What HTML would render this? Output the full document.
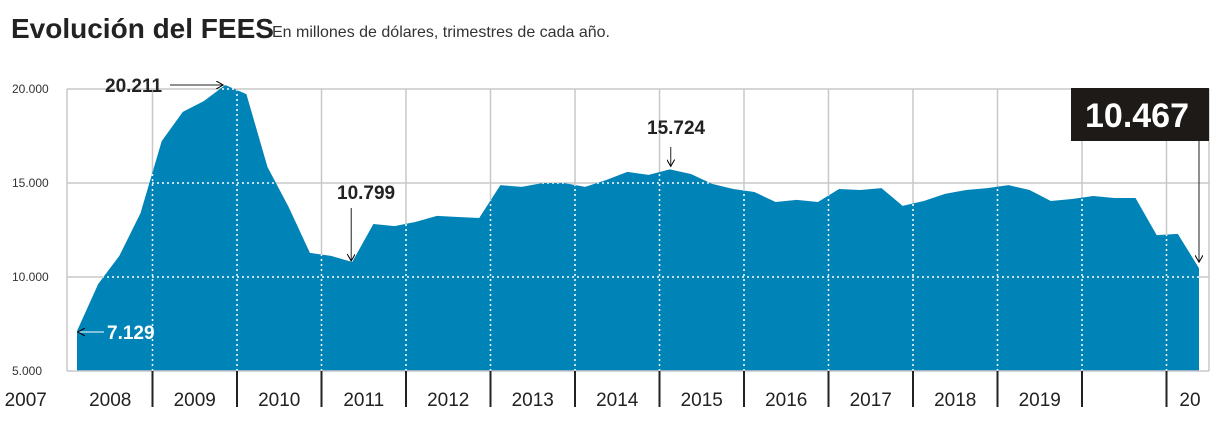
<!DOCTYPE html>
<html><head><meta charset="utf-8"><style>
body{margin:0;background:#fff;width:1221px;height:421px;overflow:hidden;font-family:"Liberation Sans",sans-serif}
svg{display:block}
</style></head><body>
<svg id="chart" width="1221" height="421" viewBox="0 0 1221 421" xmlns="http://www.w3.org/2000/svg">
<text x="11" y="38" font-family="Liberation Sans Narrow, Liberation Sans, sans-serif" font-weight="bold" font-size="28" fill="#222">Evolución del FEES</text>
<text x="272" y="37" font-family="Liberation Sans Narrow, Liberation Sans, sans-serif" font-size="16" fill="#333">En millones de dólares, trimestres de cada año.</text>
<g id="grid"></g>
<path id="area" fill="#0083b7"/>
<g id="inner"></g>
<g id="axes"></g>
<g id="ann"></g>
</svg>
<script>
const years=["2007","2008","2009","2010","2011","2012","2013","2014","2015","2016","2017","2018","2019","20"];
const yTicks=[5000,10000,15000,20000];
const yTickLabels=["5.000","10.000","15.000","20.000"];
const values=[7129,9630,11120,13400,17230,18780,19360,20211,19730,15850,13720,11280,11120,10799,12820,12710,12930,13250,13190,13140,14890,14790,15000,15000,14790,15160,15590,15430,15724,15480,14950,14680,14520,13990,14100,13990,14680,14630,14730,13780,14040,14420,14630,14730,14890,14630,14040,14150,14310,14200,14200,12230,12290,10467];
const NS="http://www.w3.org/2000/svg";
const x0=77,x1=1199,yBase=371;
function xs(i){return x0+i*(x1-x0)/(values.length-1);}
function ys(v){return 371-(v-5000)*(94/5000);}
function yearX(k){return 152.5+(k-1)*84.5;}
function mk(tag,attrs,parent){const e=document.createElementNS(NS,tag);for(const k in attrs)e.setAttribute(k,attrs[k]);parent.appendChild(e);return e;}
const grid=document.getElementById('grid'),inner=document.getElementById('inner'),axes=document.getElementById('axes'),ann=document.getElementById('ann');
// outer frame gray
for(let t=1;t<yTicks.length;t++){
  const l=mk('line',{x1:67,x2:1209,y1:ys(yTicks[t]),y2:ys(yTicks[t]),stroke:'#c8c8c8','stroke-width':1.5},grid);
  
  
}
mk('line',{x1:67,x2:67,y1:89,y2:371,stroke:'#c8c8c8','stroke-width':1.5},grid);
mk('line',{x1:1209,x2:1209,y1:89,y2:371,stroke:'#c8c8c8','stroke-width':1.5},grid);
for(let k=1;k<years.length;k++){
  const l=mk('line',{x1:yearX(k),x2:yearX(k),y1:89,y2:371,stroke:'#c8c8c8','stroke-width':1.5},grid);
  
  
}
// area
let d='M'+xs(0)+','+yBase;
values.forEach((v,i)=>{d+=' L'+xs(i).toFixed(1)+','+ys(v).toFixed(1);});
d+=' L'+xs(values.length-1)+','+yBase+' Z';
document.getElementById('area').setAttribute('d',d);
const cp=mk('clipPath',{id:'cp'},document.getElementById('chart'));
mk('path',{d:d},cp);
inner.setAttribute('clip-path','url(#cp)');
for(let t=1;t<yTicks.length;t++) mk('line',{x1:67,x2:1209,y1:ys(yTicks[t]),y2:ys(yTicks[t]),stroke:'#fff','stroke-width':1.5,'stroke-dasharray':'2 3'},inner);
for(let k=1;k<years.length;k++) mk('line',{x1:yearX(k),x2:yearX(k),y1:89,y2:371,stroke:'#fff','stroke-width':1.5,'stroke-dasharray':'2 3'},inner);
// axes
mk('line',{x1:67,x2:1209,y1:371,y2:371,stroke:'#c8c8c8','stroke-width':1.5},axes);
yTicks.forEach((v,i)=>{
  const t=mk('text',{x:12,y:ys(v)+4,'font-size':12,fill:'#333'},axes);
  t.textContent=yTickLabels[i];
  
  
});
years.forEach((y,k)=>{
  if(k>0){const s=mk('line',{x1:yearX(k),x2:yearX(k),y1:371,y2:407,stroke:'#222','stroke-width':2},axes);
    
    }
  const cx=k<years.length-1?yearX(k)-42.25:1190;
  const t=mk('text',{x:cx,y:406,'font-size':19,fill:'#222','text-anchor':'middle'},axes);
  t.textContent=y;
  
  
});
// annotations
mk('defs',{},ann).innerHTML='<marker id="ah" markerWidth="8" markerHeight="8" refX="7" refY="4" orient="auto" markerUnits="userSpaceOnUse"><path d="M0,0 L7,4 L0,8" fill="none" stroke="currentColor" stroke-width="1"/></marker>';
function label(txt,x,y,fill,name,size){const t=mk('text',{x:x,y:y,'font-size':size||19,'font-weight':'bold',fill:fill},ann);t.textContent=txt;return t;}
const pk=7,mn=13,mx=28,last=values.length-1;
label('20.211',105,92,'#222','label-max-2008');
mk('line',{x1:170,x2:xs(pk)-2,y1:85,y2:85,stroke:'#222','stroke-width':1,'marker-end':'url(#ah)',color:'#222'},ann);
label('7.129',107,339,'#fff','label-start-2007');
mk('line',{x1:104,x2:xs(0)+1,y1:332,y2:332,stroke:'#fff','stroke-width':1,'marker-end':'url(#ah)',color:'#fff'},ann);
label('10.799',337,199,'#222','label-min-2010');
mk('line',{x1:xs(mn)-1,x2:xs(mn)-1,y1:208,y2:ys(values[mn])-1,stroke:'#222','stroke-width':1,'marker-end':'url(#ah)',color:'#222'},ann);
label('15.724',647,134,'#222','label-peak-2014');
mk('line',{x1:xs(mx)+1,x2:xs(mx)+1,y1:147,y2:ys(values[mx])-3,stroke:'#222','stroke-width':1,'marker-end':'url(#ah)',color:'#222'},ann);
const box=mk('rect',{x:1071,y:88,width:138,height:53,fill:'#1e1a18'},ann);


label('10.467',1085,127,'#fff','label-current-value',34);
mk('line',{x1:xs(last),x2:xs(last),y1:141,y2:ys(values[last])-6,stroke:'#222','stroke-width':1,'marker-end':'url(#ah)',color:'#222'},ann);
</script>
</body></html>
